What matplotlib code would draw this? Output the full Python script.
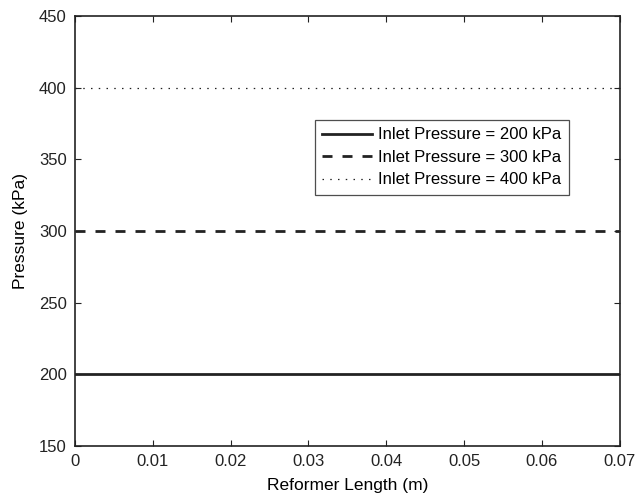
import matplotlib
matplotlib.use("Agg")
import matplotlib.pyplot as plt

plt.rcParams["font.family"] = ["Liberation Sans", "DejaVu Sans"]

# reformer length (m) and constant pressure profiles (kPa)
length = [0.0, 0.07]
p_200 = [200, 200]
p_300 = [300, 300]
p_400 = [400, 400]
labels = ["Inlet Pressure = 200 kPa",
          "Inlet Pressure = 300 kPa",
          "Inlet Pressure = 400 kPa"]
xticks = [0, 0.01, 0.02, 0.03, 0.04, 0.05, 0.06, 0.07]
xtick_labels = ["0", "0.01", "0.02", "0.03", "0.04", "0.05", "0.06", "0.07"]
yticks = [150, 200, 250, 300, 350, 400, 450]


def main():
    fig = plt.figure(figsize=(6.35, 4.94), dpi=100)
    ax = fig.add_axes([0.118, 0.097, 0.858, 0.871])

    ax.plot(length, p_200, color="#222222", lw=2.0, ls="-", label=labels[0])
    ax.plot(length, p_300, color="#222222", lw=2.0, ls=(0, (3.6, 3.6)),
            label=labels[1])
    ax.plot(length, p_400, color="#222222", lw=0.9, ls=(0, (1.2, 5)),
            label=labels[2])

    ax.set_xlim(0, 0.07)
    ax.set_ylim(150, 450)
    ax.set_xticks(xticks, xtick_labels)
    ax.set_yticks(yticks)
    ax.tick_params(direction="in", top=True, right=True, length=4,
                   width=0.8, labelsize=12, colors="#222222", pad=6)
    for s in ax.spines.values():
        s.set_linewidth(1.2)
        s.set_color("#222222")

    ax.set_xlabel("Reformer Length (m)", fontsize=12.5, labelpad=6)
    ax.set_ylabel("Pressure (kPa)", fontsize=12.5, labelpad=8)

    leg = ax.legend(loc="upper left", bbox_to_anchor=(0.44, 0.758),
                    fontsize=12, frameon=True, fancybox=False,
                    handlelength=3.0, handletextpad=0.35, borderpad=0.45,
                    labelspacing=0.45, borderaxespad=0)
    leg.get_frame().set_edgecolor("#222222")
    leg.get_frame().set_linewidth(0.9)

    fig.savefig("out.png", dpi=100)


if __name__ == "__main__":
    main()
